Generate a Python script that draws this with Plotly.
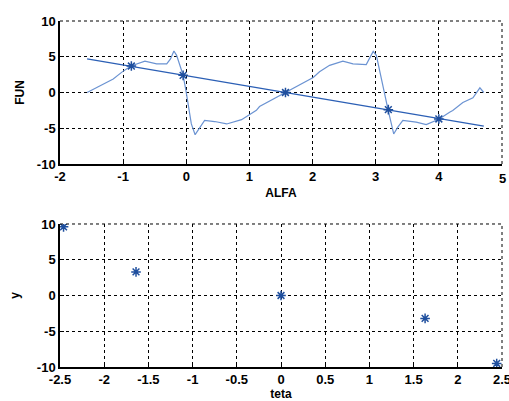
import plotly.graph_objects as go
from plotly.subplots import make_subplots

# ---- data: top panel ----
curve_x = [-1.571, -1.157, -1.02, -0.877, -0.655, -0.47, -0.31, -0.25, -0.196, -0.153,
           -0.09, -0.05, -0.006, 0.08, 0.14, 0.21, 0.29, 0.45, 0.64, 0.875, 1.0, 1.11,
           1.16, 1.571, 1.80, 2.01, 2.11, 2.27, 2.48, 2.64, 2.85, 2.905, 2.96, 3.01,
           3.09, 3.195, 3.285, 3.35, 3.43, 3.64, 3.80, 4.0, 4.17, 4.22, 4.38, 4.54,
           4.65, 4.712]
curve_y = [0.0, 1.9, 2.85, 3.7, 4.38, 4.0, 4.0, 4.7, 5.8, 5.2,
           3.5, 2.4, 0.3, -4.4, -5.9, -5.0, -3.9, -4.06, -4.4, -3.8, -3.1, -2.5,
           -1.96, 0.0, 1.0, 2.1, 2.9, 3.8, 4.38, 4.0, 3.9, 4.9, 5.75, 5.2,
           1.7, -2.4, -5.8, -4.85, -3.9, -4.15, -4.48, -3.75, -2.75, -2.52, -1.4, -0.75,
           0.65, 0.0]
line_x = [-1.571, 4.712]
line_y = [4.71, -4.71]
star_x = [-0.87, -0.05, 1.571, 3.2, 4.0]
star_y = [3.7, 2.4, 0.0, -2.4, -3.7]

# ---- data: bottom panel ----
teta = [-2.46, -1.64, 0.0, 1.63, 2.44]
yvals = [9.6, 3.3, 0.0, -3.2, -9.5]

top_ticks = [-2, -1, 0, 1, 2, 3, 4, 5]
top_ticktext = ["-2", "-1", "0", "1", "2", "3", "4", "5"]
bot_ticks = [-2.5, -2, -1.5, -1, -0.5, 0, 0.5, 1, 1.5, 2, 2.5]
bot_ticktext = ["-2.5", "-2", "-1.5", "-1", "-0.5", "0", "0.5", "1", "1.5", "2", "2.5"]
y_ticks = [-10, -5, 0, 5, 10]
y_ticktext = ["-10", "-5", "0", "5", "10"]

curve_col = "#6b93d2"
line_col = "#2b5fb5"
star_col = "#1f4f9e"

fig = make_subplots(rows=2, cols=1, vertical_spacing=0.1734)

fig.add_trace(go.Scatter(x=curve_x, y=curve_y, mode="lines",
                         line=dict(color=curve_col, width=1.2)), row=1, col=1)
fig.add_trace(go.Scatter(x=line_x, y=line_y, mode="lines",
                         line=dict(color=line_col, width=1.2)), row=1, col=1)
fig.add_trace(go.Scatter(x=star_x, y=star_y, mode="markers",
                         marker=dict(symbol="asterisk-open", size=8, color=star_col,
                                     line=dict(color=star_col, width=1.5))), row=1, col=1)
fig.add_trace(go.Scatter(x=teta, y=yvals, mode="markers",
                         marker=dict(symbol="asterisk-open", size=8, color=star_col,
                                     line=dict(color=star_col, width=1.5))), row=2, col=1)

tickfont = dict(family="Arial, Liberation Sans, sans-serif", size=13, color="black", weight="bold")
titlefont = dict(family="Arial, Liberation Sans, sans-serif", size=12, color="black", weight="bold")

common_axis = dict(showline=True, linecolor="black", linewidth=1.5, mirror=False,
                   ticks="inside", ticklen=4, tickcolor="black",
                   showgrid=True, gridcolor="black", gridwidth=1, griddash="3px,3px",
                   zeroline=False, tickfont=tickfont, automargin=False,
                   ticklabeloverflow="allow")

# last top tick label (at the right edge) is placed as an annotation, since
# plotly drops it at the edge
fig.update_xaxes(range=[-2, 5], tickvals=top_ticks[:-1], ticktext=top_ticktext[:-1], row=1, col=1,
                 **common_axis, title=dict(text="ALFA", font=titlefont, standoff=5))
fig.update_yaxes(range=[-10, 10], tickvals=y_ticks, ticktext=y_ticktext, row=1, col=1,
                 **common_axis, title=dict(text="FUN", font=titlefont, standoff=10))
fig.update_xaxes(range=[-2.5, 2.5], tickvals=bot_ticks, ticktext=bot_ticktext, row=2, col=1,
                 **common_axis, title=dict(text="teta", font=titlefont, standoff=2))
fig.update_yaxes(range=[-10, 10], tickvals=y_ticks, ticktext=y_ticktext, row=2, col=1,
                 **common_axis, title=dict(text="y", font=titlefont, standoff=15))

fig.add_annotation(x=top_ticks[-1], xref="x", y=0, yref="y domain", yanchor="top",
                   xanchor="center", yshift=-5, showarrow=False,
                   text=top_ticktext[-1], font=tickfont)

# dashed top/right border lines (grid at range edges)
for ax in ["", "2"]:
    fig.add_shape(type="line", xref=f"x{ax} domain", yref=f"y{ax} domain",
                  x0=0, x1=1, y0=1, y1=1, line=dict(color="black", width=1, dash="3px,3px"))
    fig.add_shape(type="line", xref=f"x{ax} domain", yref=f"y{ax} domain",
                  x0=1, x1=1, y0=0, y1=1, line=dict(color="black", width=1, dash="3px,3px"))

fig.update_layout(width=509, height=401, showlegend=False,
                  margin=dict(l=60, r=7, t=21, b=34),
                  paper_bgcolor="white", plot_bgcolor="white",
                  font=dict(family="Arial, Liberation Sans, sans-serif"))

fig.write_html("out.html", config={"displayModeBar": False},
               post_script="document.body.style.margin='0';document.body.style.overflow='hidden';")
